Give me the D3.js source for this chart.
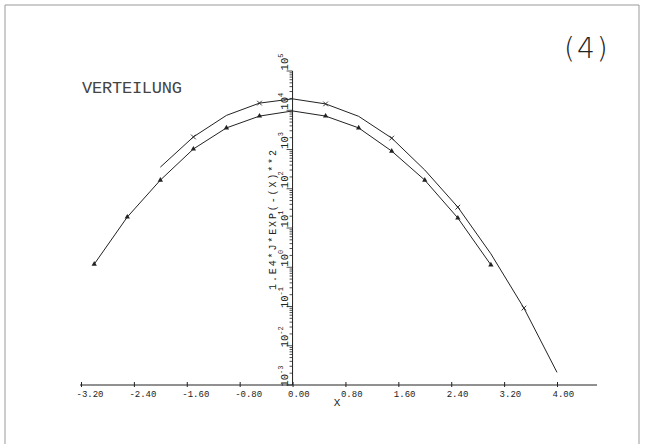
<!DOCTYPE html>
<html><head><meta charset="utf-8">
<script src="https://cdn.jsdelivr.net/npm/d3@7"></script>
<style>html,body{margin:0;padding:0;background:#fff;}svg{display:block;}</style>
</head><body>
<svg id="c" width="645" height="444"></svg>
<script>
// ---- data ----
const xTicks = [-3.2, -2.4, -1.6, -0.8, 0.0, 0.8, 1.6, 2.4, 3.2, 4.0];
const yDecades = [-3, -2, -1, 0, 1, 2, 3, 4, 5];

// lower curve (triangle markers)
const lowerX = [-3, -2.5, -2, -1.5, -1, -0.5, 0, 0.5, 1, 1.5, 2, 2.5, 3];
const lowerV = [1.2, 19, 166, 1030, 3550, 7100, 9600, 7100, 3550, 910, 166, 18, 1.15];

// upper curve (cross markers on every second point)
const upperX = [-2, -1.5, -1, -0.5, 0, 0.5, 1, 1.5, 2, 2.5, 3, 3.5, 4];
const upperV = [355, 2090, 7400, 15200, 19500, 14500, 7000, 1950, 300, 34, 2.2, 0.091, 0.0021];
const upperMarked = [-1.5, -0.5, 0.5, 1.5, 2.5, 3.5];

const title = "VERTEILUNG";
const panel = "(4)";
const xLabel = "X";
const yLabel = "1.E4*J*EXP(-(X)**2";

// ---- drawing ----
const svg = d3.select("#c");
const ink = "#222";

// frame
svg.append("path")
  .attr("d", "M5,444 L5,5 L639,5 L639,444")
  .attr("fill", "none").attr("stroke", "#999").attr("stroke-width", 1);

const x = d3.scaleLinear().domain([-3.2, 4.0]).range([81, 557]);
const y = d3.scaleLog().domain([1e-3, 1e5]).range([385, 71]);

// x axis
svg.append("line").attr("x1", 80).attr("x2", 597).attr("y1", 385).attr("y2", 385)
  .attr("stroke", ink).attr("stroke-width", 1);
const gx = svg.append("g").attr("transform", "translate(0,385)")
  .call(d3.axisBottom(x).tickValues(xTicks).tickSize(-4).tickSizeOuter(0).tickFormat(d => d.toFixed(2)));
gx.select(".domain").remove();
gx.selectAll(".tick line").attr("stroke", ink).attr("y2", -3).attr("y1", 2);
gx.selectAll(".tick text")
  .attr("y", 12).attr("dy", 0).attr("dx", -5)
  .attr("text-anchor", "start")
  .attr("font-family", "Liberation Mono, DejaVu Sans Mono, monospace")
  .attr("font-size", 9).attr("fill", ink);

// y axis line
const x0 = x(0);
svg.append("line").attr("x1", x0).attr("x2", x0).attr("y1", 385).attr("y2", 71)
  .attr("stroke", ink).attr("stroke-width", 1);

// log ticks
const ticks = [];
yDecades.forEach(k => {
  if (k < 5) for (let m = 1; m <= 9; m++) ticks.push({v: m * Math.pow(10, k), major: m === 1});
  else ticks.push({v: Math.pow(10, k), major: true});
});
svg.append("g").selectAll("line").data(ticks).join("line")
  .attr("x1", d => x0 - (d.major ? 6 : 3)).attr("x2", x0)
  .attr("y1", d => y(d.v)).attr("y2", d => y(d.v))
  .attr("stroke", ink).attr("stroke-width", 0.8);

// decade labels, rotated
const yl = svg.append("g").selectAll("text").data(yDecades).join("text")
  .attr("transform", k => `translate(${x0 - 5},${y(Math.pow(10, k)) - 9}) rotate(-90)`)
  .attr("text-anchor", "middle")
  .attr("font-family", "Liberation Mono, DejaVu Sans Mono, monospace")
  .attr("font-size", 10.5).attr("fill", ink);
yl.append("tspan").text("10");
yl.append("tspan").attr("dy", -5).attr("font-size", 7).text(k => String(k));

// y axis title
svg.append("text")
  .attr("transform", `translate(276,220) rotate(-90)`)
  .attr("text-anchor", "middle")
  .attr("font-family", "Liberation Mono, DejaVu Sans Mono, monospace")
  .attr("font-size", 10).attr("fill", ink)
  .attr("textLength", 140).attr("lengthAdjust", "spacing")
  .text(yLabel);

// x axis title
svg.append("text").attr("x", 337).attr("y", 406).attr("text-anchor", "middle")
  .attr("font-family", "Liberation Mono, DejaVu Sans Mono, monospace")
  .attr("font-size", 11).attr("fill", ink).text(xLabel);

// curves
const line = d3.line().x(d => x(d[0])).y(d => y(d[1]));
const lower = lowerX.map((v, i) => [v, lowerV[i]]);
const upper = upperX.map((v, i) => [v, upperV[i]]);
svg.append("path").attr("d", line(lower)).attr("fill", "none").attr("stroke", ink).attr("stroke-width", 1);
svg.append("path").attr("d", line(upper)).attr("fill", "none").attr("stroke", ink).attr("stroke-width", 1);

svg.append("g").selectAll("path").data(lower.filter(d => d[0] !== 0)).join("path")
  .attr("transform", d => `translate(${x(d[0])},${y(d[1])})`)
  .attr("d", d3.symbol(d3.symbolTriangle, 12)).attr("fill", ink);
svg.append("g").selectAll("path").data(upper.filter(d => upperMarked.includes(d[0]))).join("path")
  .attr("transform", d => `translate(${x(d[0])},${y(d[1])})`)
  .attr("d", d3.symbol(d3.symbolX, 16)).attr("fill", "none").attr("stroke", ink).attr("stroke-width", 0.9);

// texts
svg.append("text").attr("x", 82).attr("y", 93)
  .attr("font-family", "Liberation Mono, DejaVu Sans Mono, monospace")
  .attr("font-size", 17).attr("fill", "#444")
  .attr("textLength", 100).attr("lengthAdjust", "spacing")
  .text(title);

svg.append("text").attr("x", 564).attr("y", 58)
  .attr("font-family", "DejaVu Sans, sans-serif").attr("font-weight", 200)
  .attr("font-size", 28).attr("letter-spacing", 2).attr("fill", "#222")
  .text(panel);
</script>
</body></html>
